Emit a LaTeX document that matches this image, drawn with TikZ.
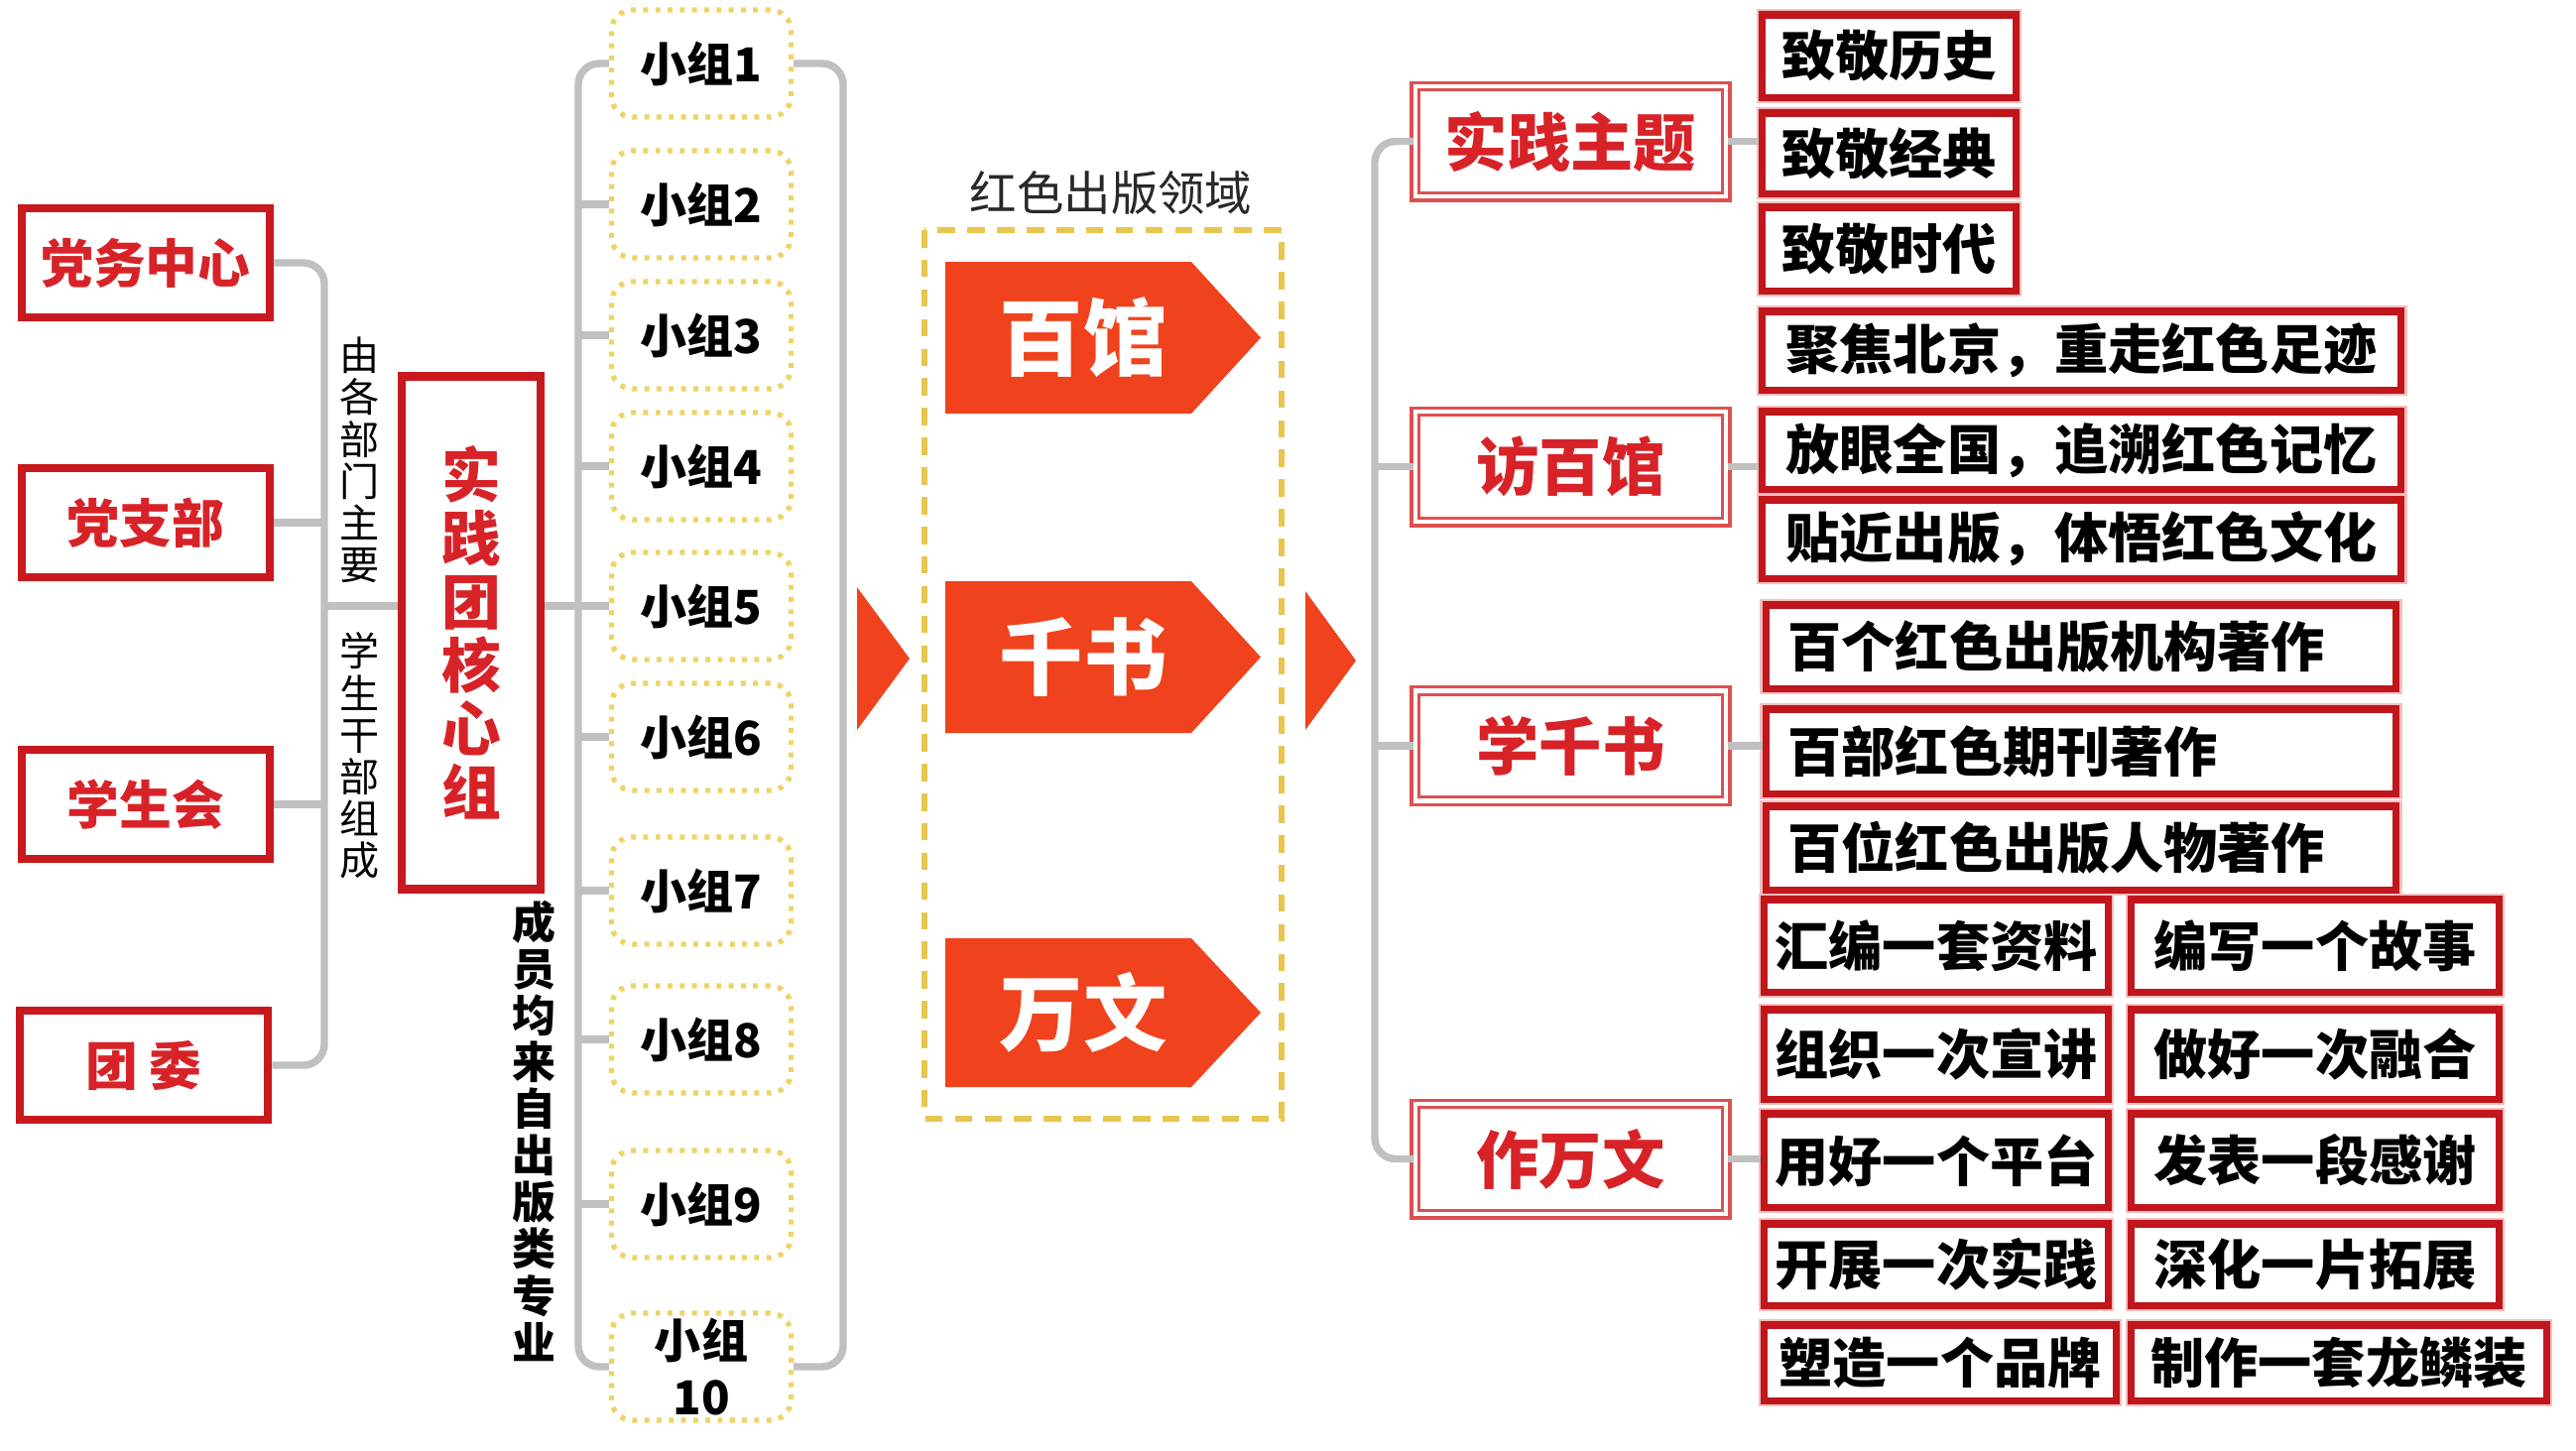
\documentclass[tikz,border=0pt]{standalone}
\usepackage{fontspec}
\setmainfont{Noto Sans CJK SC}
\usetikzlibrary{calc}
\definecolor{boxred}{RGB}{200,25,30}
\definecolor{txtred}{RGB}{215,35,40}
\definecolor{lineg}{RGB}{192,192,192}
\definecolor{dotyel}{RGB}{236,212,105}
\definecolor{dashyel}{RGB}{232,198,78}
\definecolor{bannerc}{RGB}{240,66,28}
\definecolor{catred}{RGB}{222,80,80}
\definecolor{kidred}{RGB}{192,22,28}
\definecolor{pinkglow}{RGB}{246,190,190}
\definecolor{titleg}{RGB}{40,40,40}
\newcommand\fsz[2]{\fontsize{#1}{#2}\selectfont}
\begin{document}
\begin{tikzpicture}[x=0.01cm,y=-0.01cm,
  conn/.style={draw=lineg, line width=2.1pt, rounded corners=6pt},
  leftbox/.style={draw=boxred, line width=2.5pt, fill=white, text=txtred,
    font=\bfseries\fsz{15pt}{15pt}, minimum width=2.5cm, minimum height=1.1cm, inner sep=0pt},
  corebox/.style={draw=boxred, line width=2.5pt, fill=white, text=txtred, align=center,
    font=\bfseries\fsz{17pt}{18.2pt}, minimum width=1.4cm, minimum height=5.17cm, inner sep=0pt},
  vtext/.style={align=center, inner sep=0pt, text=black},
  gbox/.style={draw=dotyel, line width=1.5pt, dash pattern=on 1.4pt off 2.1pt, rounded corners=6pt,
    fill=white, font=\bfseries\fsz{13.4pt}{16pt}, align=center, minimum width=1.81cm, minimum height=1.08cm, inner sep=0pt},
  bantext/.style={text=white, font=\bfseries\fsz{24pt}{24pt}, inner sep=0pt},
  catbox/.style={draw=catred, line width=0.9pt, double=white, double distance=1.3pt, fill=white, text=txtred,
    font=\bfseries\fsz{18pt}{18pt}, minimum width=3.13cm, minimum height=1.11cm, inner sep=0pt},
  kid/.style={draw=kidred, line width=2pt, preaction={draw=pinkglow, line width=3.6pt}, fill=white,
    text=black, font=\bfseries\fsz{15.4pt}{15.4pt}, inner sep=0pt},
]
\useasboundingbox (0,0) rectangle (2597,1462);
\fill[white] (0,0) rectangle (2597,1462);

% ---- left boxes
\node[leftbox] (dw)  at (147,265)  {党务中心};
\node[leftbox] (dzb) at (147,527)  {党支部};
\node[leftbox] (xsh) at (147,811)  {学生会};
\node[leftbox] (tw)  at (145,1074) {团\ 委};

\node[vtext, font=\fsz{11.4pt}{12pt}] (vt1) at (363,464) {由\\各\\部\\门\\主\\要};
\node[vtext, font=\fsz{11.4pt}{12pt}] (vt2) at (363,762) {学\\生\\干\\部\\组\\成};

\node[corebox] (core) at (475,638) {实\\践\\团\\核\\心\\组};

\node[vtext, font=\bfseries\fsz{12.5pt}{13.4pt}] (vt3) at (538,1140) {成\\员\\均\\来\\自\\出\\版\\类\\专\\业};

% ---- groups
\node[gbox] (g1)  at (707,64)   {小组1};
\node[gbox] (g2)  at (707,206)  {小组2};
\node[gbox] (g3)  at (707,338)  {小组3};
\node[gbox] (g4)  at (707,470)  {小组4};
\node[gbox] (g5)  at (707,611)  {小组5};
\node[gbox] (g6)  at (707,743)  {小组6};
\node[gbox] (g7)  at (707,898)  {小组7};
\node[gbox] (g8)  at (707,1048) {小组8};
\node[gbox] (g9)  at (707,1214) {小组9};
\node[gbox] (g10) at (707,1378) {小组\\10};

\coordinate (bl) at (327,0);
\coordinate (gl) at (583,0);
\coordinate (gr) at (850,0);

\draw[conn] (dw.east) -| (bl |- tw.east) -- (tw.east);
\draw[conn] (dzb.east) -- (bl |- dzb.east);
\draw[conn] (xsh.east) -- (bl |- xsh.east);
\draw[conn] (bl |- g5.west) -- (core.west |- g5.west);
\draw[conn] (core.east |- g5.west) -- (g5.west);

\draw[conn] (g1.west) -| (gl |- g10.west) -- (g10.west);
\foreach \g in {g2,g3,g4,g6,g7,g8,g9} { \draw[conn] (\g.west) -- (gl |- \g.west); }
\draw[conn] (g1.east) -| (gr |- g10.east) -- (g10.east);

% ---- middle
\node[text=titleg, font=\fsz{13.5pt}{13.5pt}, inner sep=0pt] (title) at (1120,194) {红色出版领域};
\draw[dashyel, line width=1.7pt, dash pattern=on 5pt off 3.5pt] (932,232) rectangle (1292,1128);

\fill[bannerc] (953,264) -- (1201,264) -- (1271,340.5) -- (1201,417) -- (953,417) -- cycle;
\fill[bannerc] (953,586) -- (1201,586) -- (1271,662.5) -- (1201,739) -- (953,739) -- cycle;
\fill[bannerc] (953,946) -- (1201,946) -- (1271,1021) -- (1201,1096) -- (953,1096) -- cycle;
\node[bantext] (b1) at (1092,340) {百馆};
\node[bantext] (b2) at (1092,662) {千书};
\node[bantext] (b3) at (1092,1021) {万文};

\fill[bannerc] (864,592) -- (917,664) -- (864,736) -- cycle;
\fill[bannerc] (1316,596) -- (1367,666) -- (1316,736) -- cycle;

% ---- right categories
\node[catbox] (c1) at (1583.5,142.5) {实践主题};
\node[catbox] (c2) at (1583.5,470.5) {访百馆};
\node[catbox] (c3) at (1583.5,752)   {学千书};
\node[catbox] (c4) at (1583.5,1168.5){作万文};

% ---- kids
\node[kid, minimum width=2.55cm, minimum height=0.83cm] (k1) at (1904.5,56.5) {致敬历史};
\node[kid, minimum width=2.55cm, minimum height=0.81cm] (k2) at (1904.5,154.5) {致敬经典};
\node[kid, minimum width=2.55cm, minimum height=0.84cm] (k3) at (1904.5,251) {致敬时代};

\node[kid, minimum width=6.43cm, minimum height=0.79cm] (f1) at (2098.5,353.5) {聚焦北京，重走红色足迹};
\node[kid, minimum width=6.43cm, minimum height=0.78cm] (f2) at (2098.5,454) {放眼全国，追溯红色记忆};
\node[kid, minimum width=6.43cm, minimum height=0.79cm] (f3) at (2098.5,543.5) {贴近出版，体悟红色文化};

\node[kid, anchor=west, inner xsep=0.22cm, text width=5.91cm, align=left, minimum height=0.84cm] (x1) at (1777,652) {百个红色出版机构著作};
\node[kid, anchor=west, inner xsep=0.22cm, text width=5.91cm, align=left, minimum height=0.85cm] (x2) at (1777,757.5) {百部红色期刊著作};
\node[kid, anchor=west, inner xsep=0.22cm, text width=5.91cm, align=left, minimum height=0.84cm] (x3) at (1777,855) {百位红色出版人物著作};

\node[kid, minimum width=3.46cm, minimum height=0.93cm] (w11) at (1952,953.5) {汇编一套资料};
\node[kid, minimum width=3.70cm, minimum height=0.93cm] (w12) at (2334,953.5) {编写一个故事};
\node[kid, minimum width=3.46cm, minimum height=0.90cm] (w21) at (1952,1063) {组织一次宣讲};
\node[kid, minimum width=3.70cm, minimum height=0.90cm] (w22) at (2334,1063) {做好一次融合};
\node[kid, minimum width=3.46cm, minimum height=0.94cm] (w31) at (1952,1170) {用好一个平台};
\node[kid, minimum width=3.70cm, minimum height=0.94cm] (w32) at (2334,1170) {发表一段感谢};
\node[kid, minimum width=3.46cm, minimum height=0.82cm] (w41) at (1952,1275) {开展一次实践};
\node[kid, minimum width=3.70cm, minimum height=0.82cm] (w42) at (2334,1275) {深化一片拓展};
\node[kid, minimum width=3.54cm, minimum height=0.76cm] (w51) at (1956,1374) {塑造一个品牌};
\node[kid, minimum width=4.18cm, minimum height=0.76cm] (w52) at (2358,1374) {制作一套龙鳞装};

% ---- right connectors
\coordinate (br) at (1386,0);
\draw[conn] (c1.west) -| (br |- c4.west) -- (c4.west);
\draw[conn] (c2.west) -- (br |- c2.west);
\draw[conn] (c3.west) -- (br |- c3.west);
\draw[conn] (c1.east) -- (c1.east -| k2.west);
\draw[conn] (c2.east) -- (c2.east -| f2.west);
\draw[conn] (c3.east) -- (c3.east -| x2.west);
\draw[conn] (c4.east) -- (c4.east -| w31.west);
\end{tikzpicture}
\end{document}
